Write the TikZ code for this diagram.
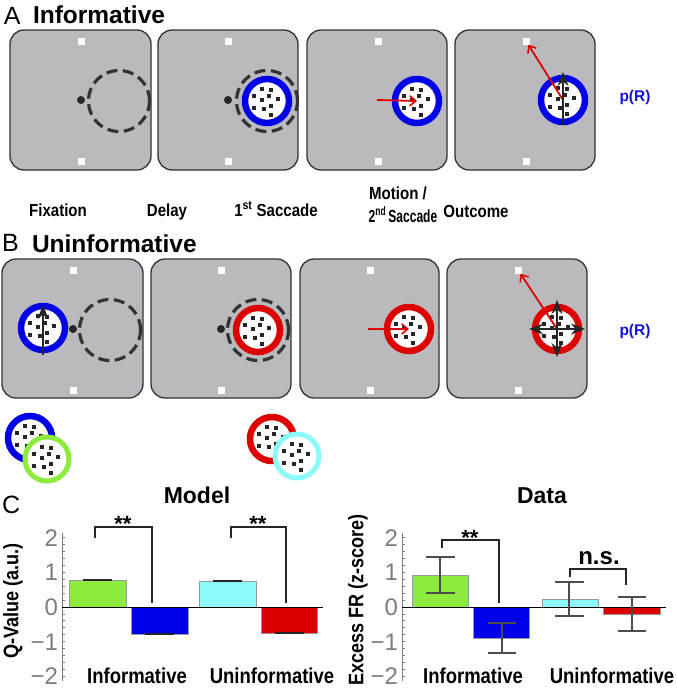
\documentclass[tikz,border=0pt]{standalone}
\usepackage{fontspec}
\setmainfont{Liberation Sans}
\newfontfamily\cond{Liberation Sans}[FakeStretch=0.86]
\usetikzlibrary{arrows.meta}
\definecolor{boxgray}{RGB}{186,186,190}
\definecolor{boxline}{RGB}{50,50,50}
\definecolor{rblue}{RGB}{0,0,230}
\definecolor{rred}{RGB}{220,0,0}
\definecolor{rgreen}{RGB}{140,235,60}
\definecolor{rcyan}{RGB}{140,250,250}
\definecolor{prblue}{RGB}{20,20,210}
\definecolor{tickgray}{RGB}{125,125,125}
\newcommand{\fpx}[1]{\fontsize{#1}{#1}\selectfont}
\tikzset{
  panel/.style={draw=boxline, line width=1.3, fill=boxgray, rounded corners=14, inner sep=0},
  target/.style={fill=white, minimum size=7, inner sep=0},
  fixdot/.style={circle, fill=black!85, minimum size=8, inner sep=0},
  dashring/.style={circle, draw=black!80, line width=3.2, dash pattern=on 11pt off 5.5pt, minimum size=61, inner sep=0},
  ring/.style={circle, draw=#1, line width=6.5, fill=white, minimum size=44, inner sep=0},
  thinring/.style={circle, draw=#1, line width=5, fill=white, minimum size=44, inner sep=0},
  redarrow/.style={draw=rred, line width=1.8, -{Straight Barb[length=6,width=10,line width=1.6]}},
  blackarrow/.style={draw=black!85, line width=1.8, -{Stealth[length=14,width=11]}},
  dots/.pic={\foreach \dx/\dy in {-5/-12,4/-11,-13/-5,2/-5,11/-2,-5/-1,-13/7,-3/8,4/5,4/14}{\fill[black!85] (\dx-2,\dy-2) rectangle ++(4,4);}},
  txt/.style={inner sep=0, outer sep=0},
  heading/.style={txt, font=\bfseries\fpx{24.5}, anchor=base west},
  letter/.style={txt, font=\fpx{25}, anchor=base west},
  steplab/.style={txt, font=\cond\bfseries\fpx{17.5}, anchor=base},
  prlab/.style={txt, font=\bfseries\fpx{15.5}, text=prblue, anchor=base},
  ticklab/.style={txt, font=\fpx{24}, text=tickgray},
  axisline/.style={draw=tickgray, line width=0.8},
  bar/.style={draw=black!40, line width=0.5},
  barcap/.style={draw=black!85, line width=1.2},
  errbar/.style={draw=black!70, line width=1.1},
  bracket/.style={draw=black!85, line width=1.3},
  starlab/.style={txt, font=\bfseries\fpx{22}, anchor=base},
  xlab/.style={txt, font=\cond\bfseries\fpx{21.5}, anchor=base},
  ylab/.style={txt, font=\cond\bfseries\fpx{21}, rotate=90},
  charttitle/.style={txt, font=\bfseries\fpx{23}, anchor=base}
}
\begin{document}
\begin{tikzpicture}[x=1pt,y=-1pt]
\useasboundingbox (0,0) rectangle (677,697);
% ---------- Panel A ----------
\node[letter] (LA) at (4,24) {A};
\node[heading] (HA) at (33,23) {Informative};
\node[panel, minimum width=141, minimum height=140] (A1) at (80.5,100) {};
\node[panel, minimum width=140, minimum height=140] (A2) at (228,100) {};
\node[panel, minimum width=140, minimum height=140] (A3) at (377,100) {};
\node[panel, minimum width=140, minimum height=140] (A4) at (525,100) {};
\foreach \n/\x in {A1/81,A2/228,A3/378,A4/526}{
  \node[target] (\n t) at (\x,41) {};
  \node[target] (\n b) at (\x,161) {};
}
% A1
\node[fixdot] (A1f) at (81,100) {};
\node[dashring] (A1d) at (119,101) {};
% A2
\node[fixdot] (A2f) at (228,100) {};
\node[dashring] (A2d) at (267,101) {};
\node[ring=rblue] (A2r) at (267,101) {};
\pic at (A2r.center) {dots};
% A3
\coordinate (A3s) at (377,100);
\node[ring=rblue] (A3r) at (417,101) {};
\pic at (A3r.center) {dots};
\draw[redarrow] (A3s) -- (A3r.center);
% A4
\node[ring=rblue] (A4r) at (563,100) {};
\pic at (A4r.center) {dots};
\coordinate (A4lo) at (563,125);
\coordinate (A4hi) at (563,72);
\draw[redarrow] (A4r.center) -- (A4t);
\draw[blackarrow] (A4lo) -- (A4hi);
\node[prlab] (PRA) at (635,101) {p(R)};
% step labels
\node[steplab] (L1) at (58,216) {Fixation};
\node[steplab] (L2) at (167,216) {Delay};
\node[steplab] (L3) at (276,216) {1\textsuperscript{st} Saccade};
\node[steplab] (L4a) at (398,199) {Motion /};
\node[steplab] (L4b) at (403,222) {\scalebox{0.8}[1]{2\textsuperscript{nd}\,Saccade}};
\node[steplab] (L5) at (476,217) {Outcome};
% ---------- Panel B ----------
\node[letter] (LB) at (2,251) {B};
\node[heading] (HB) at (32,252) {Uninformative};
\node[panel, minimum width=141, minimum height=139] (B1) at (72.5,328.5) {};
\node[panel, minimum width=140, minimum height=139] (B2) at (221,328.5) {};
\node[panel, minimum width=139, minimum height=139] (B3) at (369.5,328.5) {};
\node[panel, minimum width=140, minimum height=139] (B4) at (517,328.5) {};
\foreach \n/\x in {B1/73,B2/221,B3/370,B4/518}{
  \node[target] (\n t) at (\x,270) {};
  \node[target] (\n b) at (\x,390) {};
}
% B1
\node[ring=rblue] (B1r) at (43,328) {};
\pic at (B1r.center) {dots};
\coordinate (B1lo) at (43,355);
\coordinate (B1hi) at (43,305);
\draw[blackarrow] (B1lo) -- (B1hi);
\node[fixdot] (B1f) at (73,329) {};
\node[dashring] (B1d) at (110,330) {};
% B2
\node[fixdot] (B2f) at (221,329) {};
\node[dashring] (B2d) at (258,330) {};
\node[ring=rred] (B2r) at (258,330) {};
\pic at (B2r.center) {dots};
% B3
\coordinate (B3s) at (368,329);
\node[ring=rred] (B3r) at (409,329) {};
\pic at (B3r.center) {dots};
\draw[redarrow] (B3s) -- (B3r.center);
% B4
\node[ring=rred] (B4r) at (557,329) {};
\pic at (B4r.center) {dots};
\draw[redarrow] (B4r.center) -- (B4t);
\coordinate (B4l) at (529,329);
\coordinate (B4R) at (585,329);
\coordinate (B4u) at (557,300);
\coordinate (B4d) at (557,357);
\foreach \e in {B4l,B4R,B4u,B4d}{\draw[blackarrow] (B4r.center) -- (\e);}
\node[prlab] (PRB) at (635,335) {p(R)};
% ---------- stimulus legend ----------
\node[ring=rblue] (Cb) at (30,438) {};
\pic at (Cb.center) {dots};
\node[thinring=rgreen] (Cg) at (47,459) {};
\pic at (Cg.center) {dots};
\node[ring=rred] (Cr) at (272,439) {};
\pic at (Cr.center) {dots};
\node[thinring=rcyan] (Cc) at (297,456) {};
\pic at (Cc.center) {dots};
% ---------- Panel C ----------
\node[letter] (LC) at (2,513) {C};
\node[charttitle] (TM) at (197,503) {Model};
\node[charttitle] (TD) at (542,503) {Data};
% axes
\foreach \ax in {62,402}{
  \draw[axisline] (\ax,533) -- (\ax,681);
  \foreach \i in {-10,...,10}{
    \pgfmathsetmacro{\yy}{607-6.94*\i}
    \draw[axisline] (\ax,\yy) -- ++(2.5,0);
  }
  \foreach \v/\t in {2/2,1/1,0/0,-1/−1,-2/−2}{
    \pgfmathsetmacro{\yy}{607-34.7*\v+8.5}
    \node[ticklab, anchor=base east] (tk\ax\t) at (\ax-4,\yy) {\t};
  }
}
\node[ylab] (YM) at (13,601) {Q-Value (a.u.)};
\node[ylab] (YD) at (358,600) {Excess FR (z-score)};
% Model bars
\draw[bar, fill=rgreen] (69,580) rectangle (126,607);
\draw[bar, fill=rblue] (131,607) rectangle (188,634);
\draw[bar, fill=rcyan] (199,581) rectangle (256,607);
\draw[bar, fill=rred] (261,607) rectangle (317,633);
\draw[barcap] (83,580) -- (112,580);
\draw[barcap] (145,634) -- (174,634);
\draw[barcap] (213,581) -- (242,581);
\draw[barcap] (275,633) -- (304,633);
\draw[black, line width=0.9] (62,607) -- (323,607);
\draw[bracket] (95,538) -- (95,527) -- (152,527) -- (152,603);
\node[starlab] (SM1) at (123,531) {**};
\draw[bracket] (231,538) -- (231,527) -- (286,527) -- (286,603);
\node[starlab] (SM2) at (258,531) {**};
\node[xlab] (XM1) at (137,683) {Informative};
\node[xlab] (XM2) at (272,683) {Uninformative};
% Data bars
\draw[bar, fill=rgreen] (412,575) rectangle (468,607);
\draw[bar, fill=rblue] (473,607) rectangle (529,638);
\draw[bar, fill=rcyan] (542,599) rectangle (598,607);
\draw[bar, fill=rred] (603,607) rectangle (660,614);
\draw[black, line width=0.9] (402,607) -- (666,607);
\draw[errbar] (440,557) -- (440,593);
\draw[errbar] (426,557) -- (455,557);
\draw[errbar] (426,593) -- (455,593);
\draw[errbar] (502,623) -- (502,653);
\draw[errbar] (488,623) -- (516,623);
\draw[errbar] (488,653) -- (516,653);
\draw[errbar] (569,582) -- (569,616);
\draw[errbar] (555,582) -- (584,582);
\draw[errbar] (555,616) -- (584,616);
\draw[errbar] (632,597) -- (632,631);
\draw[errbar] (618,597) -- (646,597);
\draw[errbar] (618,631) -- (646,631);
\draw[bracket] (442,548) -- (442,540) -- (499,540) -- (499,603);
\node[starlab] (SD1) at (470,545) {**};
\draw[bracket, line width=2.6] (570,577) -- (570,569) -- (626,569) -- (626,585);
\node[txt, font=\bfseries\fpx{24}, anchor=base] (NS) at (599,564) {n.s.};
\node[xlab] (XD1) at (473,683) {Informative};
\node[xlab] (XD2) at (612,683) {Uninformative};
\end{tikzpicture}
\end{document}
